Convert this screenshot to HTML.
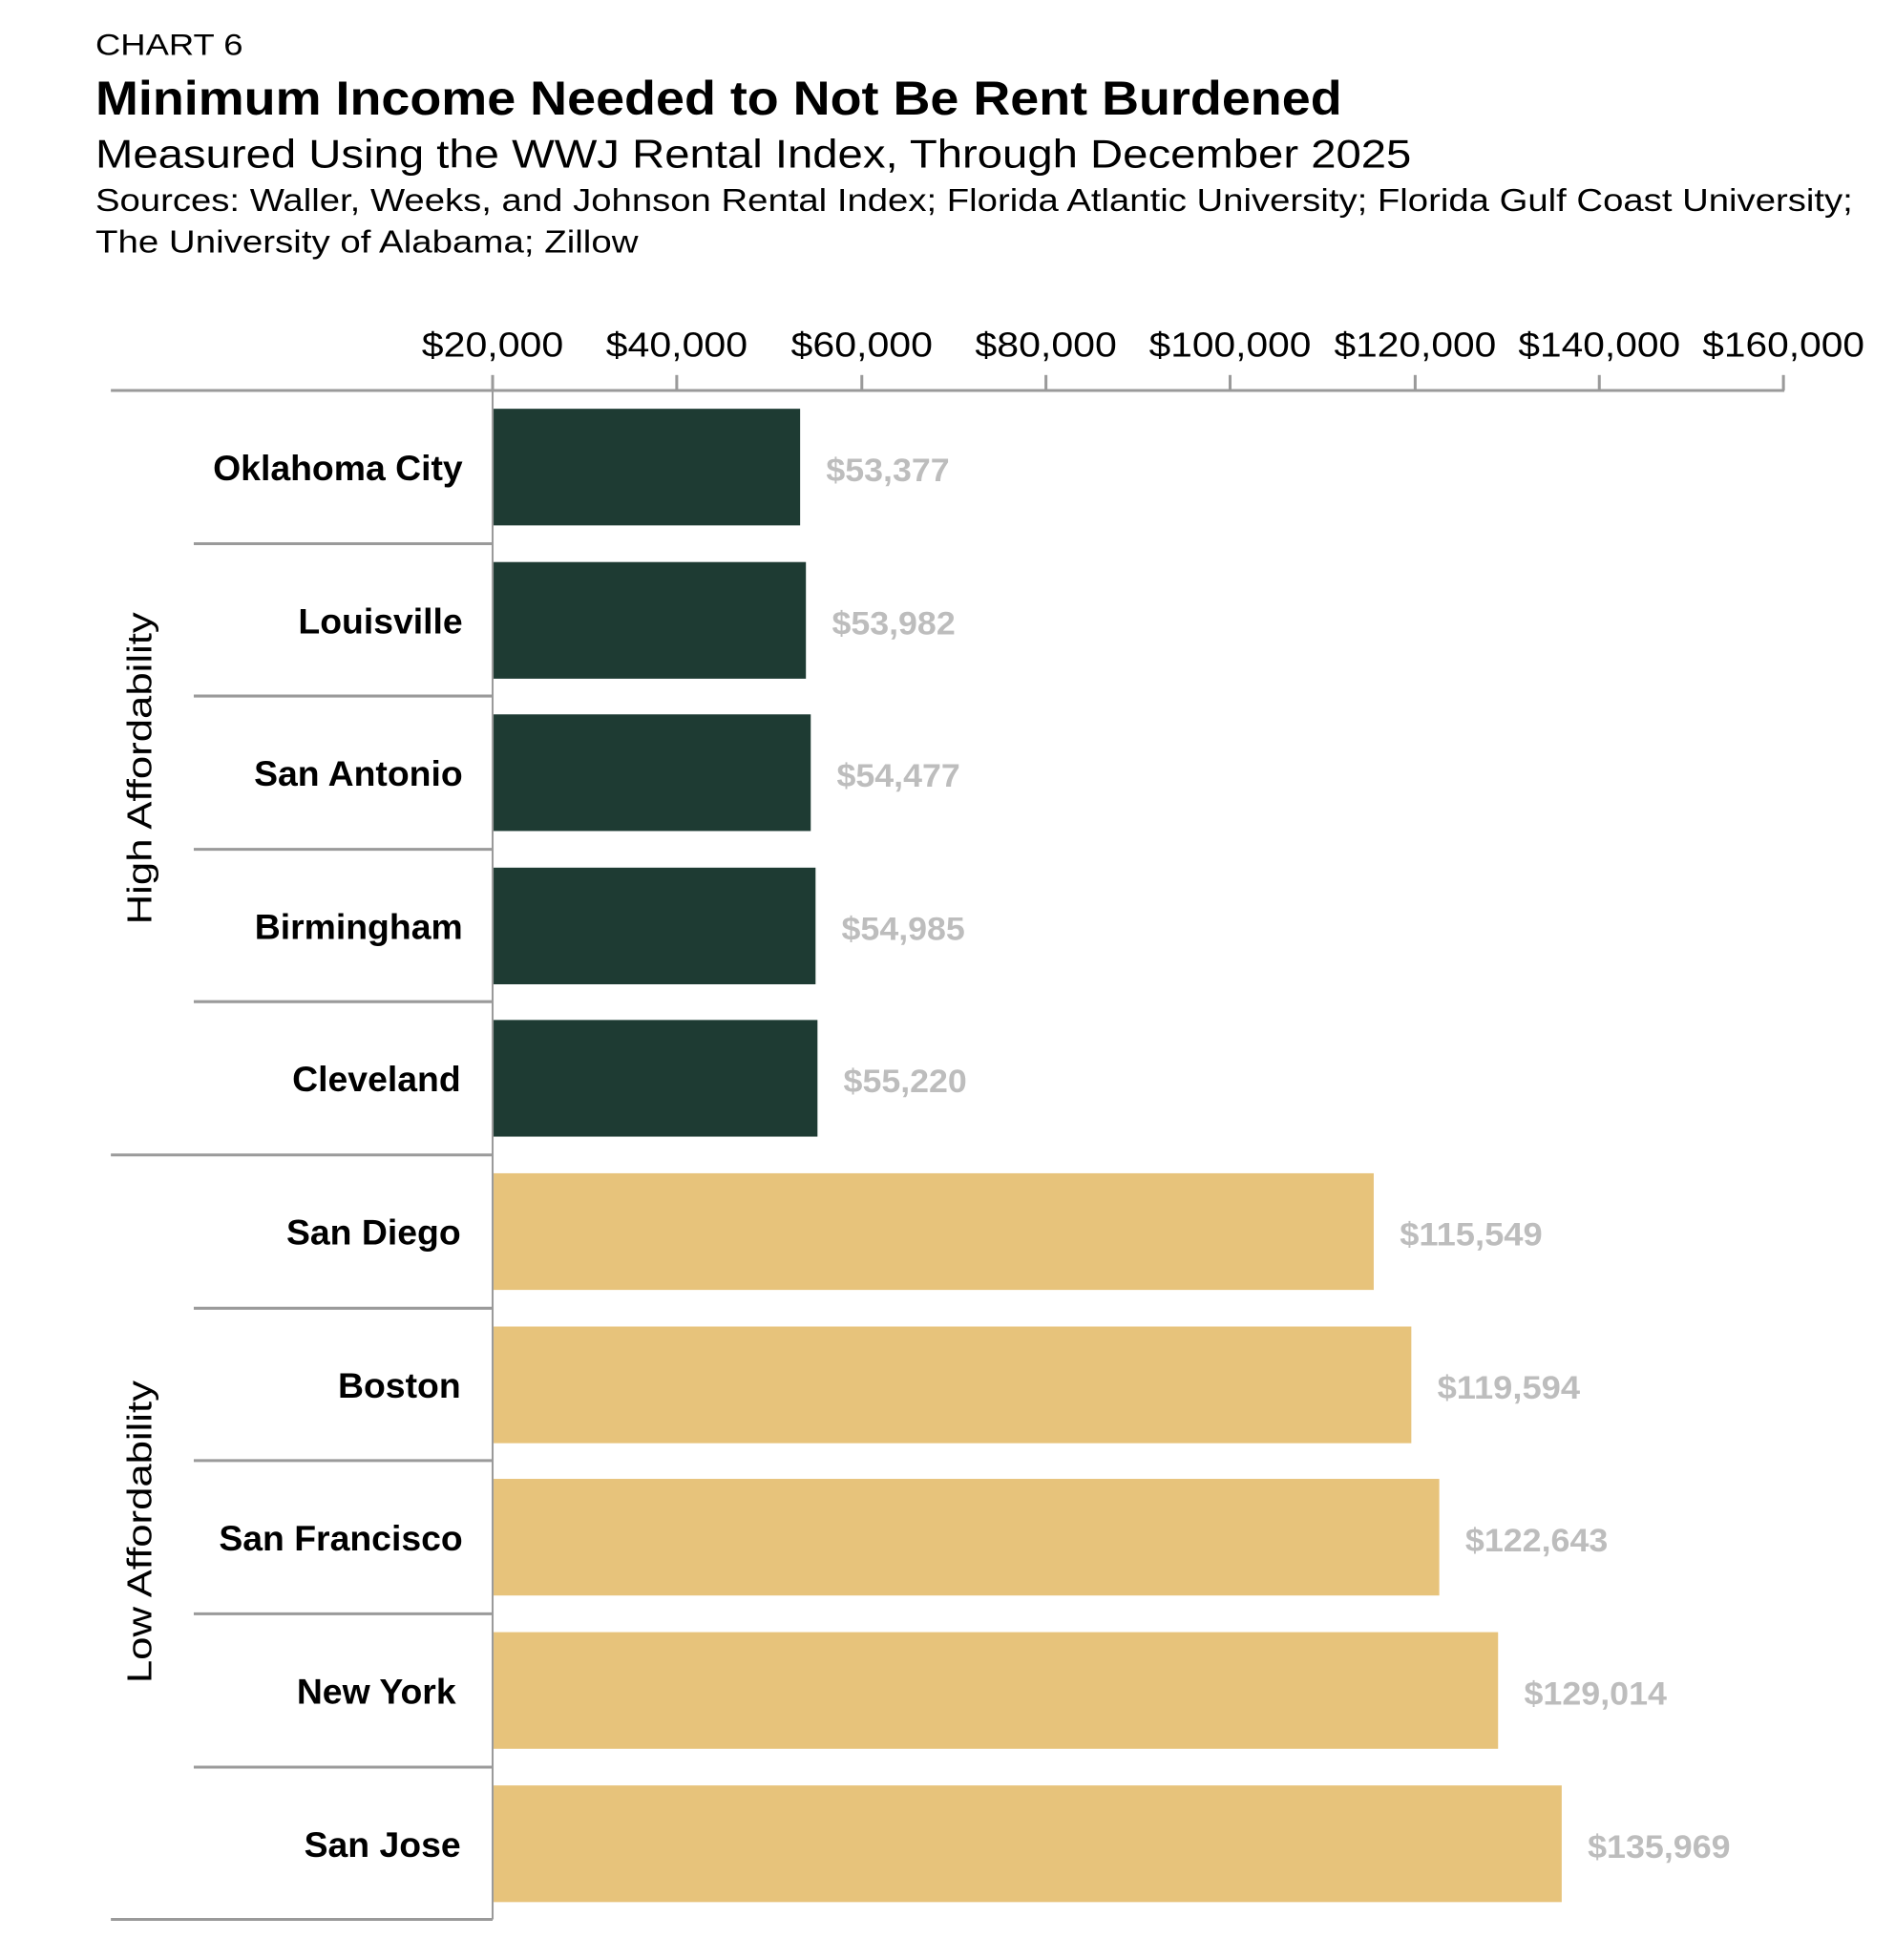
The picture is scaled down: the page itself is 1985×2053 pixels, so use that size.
<!DOCTYPE html>
<html><head><meta charset="utf-8"><style>html,body{margin:0;padding:0;background:#fff}svg{display:block}</style></head>
<body>
<svg width="1985" height="2053" viewBox="0 0 1985 2053" xmlns="http://www.w3.org/2000/svg" font-family="'Liberation Sans', Arial, sans-serif">
<rect width="1985" height="2053" fill="#fff"/>
<g transform="scale(1.0098)">
<text x="99" y="57" font-size="31" fill="#000" textLength="153" lengthAdjust="spacingAndGlyphs">CHART 6</text>
<text x="99" y="119" font-size="50" font-weight="bold" fill="#000" textLength="1293" lengthAdjust="spacingAndGlyphs">Minimum Income Needed to Not Be Rent Burdened</text>
<text x="99" y="174" font-size="41" fill="#000" textLength="1365" lengthAdjust="spacingAndGlyphs">Measured Using the WWJ Rental Index, Through December 2025</text>
<text x="99" y="219" font-size="33" fill="#000" textLength="1823" lengthAdjust="spacingAndGlyphs">Sources: Waller, Weeks, and Johnson Rental Index; Florida Atlantic University; Florida Gulf Coast University;</text>
<text x="99" y="262" font-size="33" fill="#000" textLength="563" lengthAdjust="spacingAndGlyphs">The University of Alabama; Zillow</text>

<g font-size="36" fill="#000" text-anchor="middle">
<text x="511" y="370" textLength="147" lengthAdjust="spacingAndGlyphs">$20,000</text>
<text x="702" y="370" textLength="147" lengthAdjust="spacingAndGlyphs">$40,000</text>
<text x="894" y="370" textLength="147" lengthAdjust="spacingAndGlyphs">$60,000</text>
<text x="1085" y="370" textLength="147" lengthAdjust="spacingAndGlyphs">$80,000</text>
<text x="1276" y="370" textLength="168" lengthAdjust="spacingAndGlyphs">$100,000</text>
<text x="1468" y="370" textLength="168" lengthAdjust="spacingAndGlyphs">$120,000</text>
<text x="1659" y="370" textLength="168" lengthAdjust="spacingAndGlyphs">$140,000</text>
<text x="1850" y="370" textLength="168" lengthAdjust="spacingAndGlyphs">$160,000</text>
</g>

<g stroke="#9a9a9a" stroke-width="3">
<line x1="115" y1="405" x2="1851" y2="405"/>
<line x1="511" y1="389" x2="511" y2="405"/>
<line x1="702" y1="389" x2="702" y2="405"/>
<line x1="894" y1="389" x2="894" y2="405"/>
<line x1="1085" y1="389" x2="1085" y2="405"/>
<line x1="1276" y1="389" x2="1276" y2="405"/>
<line x1="1468" y1="389" x2="1468" y2="405"/>
<line x1="1659" y1="389" x2="1659" y2="405"/>
<line x1="1850" y1="389" x2="1850" y2="405"/>
<line x1="201" y1="564" x2="511" y2="564"/>
<line x1="201" y1="722" x2="511" y2="722"/>
<line x1="201" y1="881" x2="511" y2="881"/>
<line x1="201" y1="1039" x2="511" y2="1039"/>
<line x1="115" y1="1198" x2="511" y2="1198"/>
<line x1="201" y1="1357" x2="511" y2="1357"/>
<line x1="201" y1="1515" x2="511" y2="1515"/>
<line x1="201" y1="1674" x2="511" y2="1674"/>
<line x1="201" y1="1833" x2="511" y2="1833"/>
<line x1="115" y1="1991" x2="511" y2="1991"/>
</g>

<g fill="#1e3b33">
<rect x="512" y="424" width="318" height="121"/>
<rect x="512" y="583" width="324" height="121"/>
<rect x="512" y="741" width="329" height="121"/>
<rect x="512" y="900" width="334" height="121"/>
<rect x="512" y="1058" width="336" height="121"/>
</g>
<g fill="#e7c37b">
<rect x="512" y="1217" width="913" height="121"/>
<rect x="512" y="1376" width="952" height="121"/>
<rect x="512" y="1534" width="981" height="121"/>
<rect x="512" y="1693" width="1042" height="121"/>
<rect x="512" y="1852" width="1108" height="121"/>
</g>
<line x1="511" y1="405" x2="511" y2="1991" stroke="#9a9a9a" stroke-width="2"/>

<g font-size="34" font-weight="bold" fill="#bdbdbd">
<text x="857" y="499" textLength="128" lengthAdjust="spacingAndGlyphs">$53,377</text>
<text x="863" y="658" textLength="128" lengthAdjust="spacingAndGlyphs">$53,982</text>
<text x="868" y="816" textLength="128" lengthAdjust="spacingAndGlyphs">$54,477</text>
<text x="873" y="975" textLength="128" lengthAdjust="spacingAndGlyphs">$54,985</text>
<text x="875" y="1133" textLength="128" lengthAdjust="spacingAndGlyphs">$55,220</text>
<text x="1452" y="1292" textLength="148" lengthAdjust="spacingAndGlyphs">$115,549</text>
<text x="1491" y="1451" textLength="148" lengthAdjust="spacingAndGlyphs">$119,594</text>
<text x="1520" y="1609" textLength="148" lengthAdjust="spacingAndGlyphs">$122,643</text>
<text x="1581" y="1768" textLength="148" lengthAdjust="spacingAndGlyphs">$129,014</text>
<text x="1647" y="1927" textLength="148" lengthAdjust="spacingAndGlyphs">$135,969</text>
</g>

<g font-size="37" font-weight="bold" fill="#000" text-anchor="end">
<text x="480" y="498">Oklahoma City</text>
<text x="480" y="657">Louisville</text>
<text x="480" y="815">San Antonio</text>
<text x="480" y="974">Birmingham</text>
<text x="478" y="1132">Cleveland</text>
<text x="478" y="1291">San Diego</text>
<text x="478" y="1450">Boston</text>
<text x="480" y="1608">San Francisco</text>
<text x="473" y="1767">New York</text>
<text x="478" y="1926">San Jose</text>
</g>

<g font-size="36" fill="#000" text-anchor="middle">
<text transform="translate(157,797) rotate(-90)" textLength="324" lengthAdjust="spacingAndGlyphs">High Affordability</text>
<text transform="translate(157,1589) rotate(-90)" textLength="314" lengthAdjust="spacingAndGlyphs">Low Affordability</text>
</g>
</g>
</svg>
</body></html>
